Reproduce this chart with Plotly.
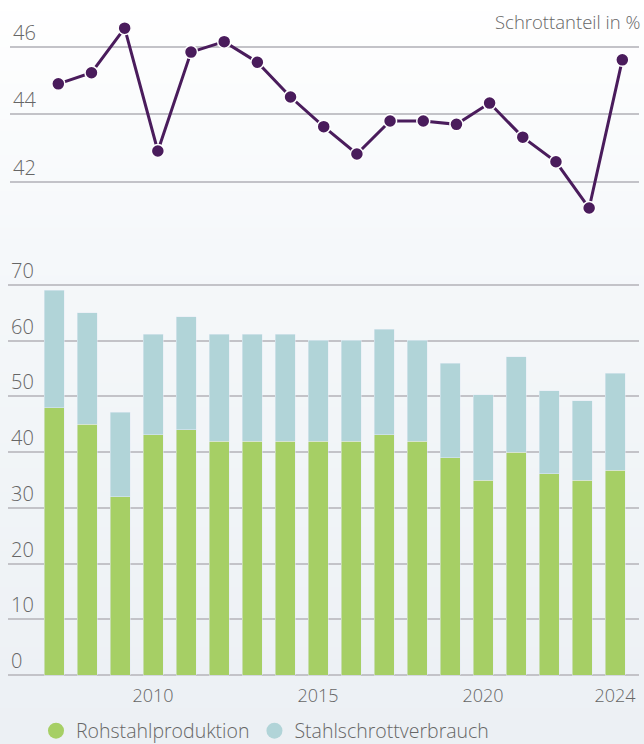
import plotly.graph_objects as go

years = list(range(2007, 2025))
rohstahl = [48, 45, 32, 43.1, 44, 42, 42, 42, 42, 42, 43.1, 42, 39, 35, 40, 36.1, 35, 36.8]
schrott = [21.1, 20, 15.2, 18.1, 20.3, 19.2, 19.2, 19.2, 18.1, 18.1, 19, 18.1, 17, 15.3, 17.1, 14.9, 14.2, 17.4]
anteil = [44.9, 45.23, 46.55, 42.91, 45.84, 46.15, 45.54, 44.51, 43.63, 42.82,
          43.8, 43.8, 43.7, 44.33, 43.32, 42.59, 41.22, 45.61]
x_ticks = [2010, 2015, 2020, 2024]
bar_ticks = [0, 10, 20, 30, 40, 50, 60, 70]
line_ticks = [42, 44, 46]

GREEN = "#a6cf65"
BLUE = "#b1d4d8"
PURPLE = "#4a1c5c"
GRID = "#c3c3c8"
TXT = "#666666"
FONT = "Open Sans"

W, H = 644, 744

fig = go.Figure()

fig.add_trace(go.Bar(x=years, y=rohstahl, marker_color=GREEN, width=0.606,
                     name="Rohstahlproduktion", showlegend=False,
                     xaxis="x", yaxis="y"))
fig.add_trace(go.Bar(x=years, y=schrott, marker_color=BLUE, width=0.606,
                     name="Stahlschrottverbrauch", showlegend=False,
                     xaxis="x", yaxis="y"))
fig.add_trace(go.Scatter(x=years, y=anteil, mode="lines+markers",
                         line=dict(color=PURPLE, width=3),
                         marker=dict(size=13, color=PURPLE, line=dict(color="white", width=1.5)),
                         showlegend=False, xaxis="x2", yaxis="y2", cliponaxis=False))
# legend entries
fig.add_trace(go.Scatter(x=[None], y=[None], mode="markers", name="Rohstahlproduktion",
                         marker=dict(size=20, color=GREEN, symbol="circle"), xaxis="x", yaxis="y"))
fig.add_trace(go.Scatter(x=[None], y=[None], mode="markers", name="Stahlschrottverbrauch",
                         marker=dict(size=20, color=BLUE, symbol="circle"), xaxis="x", yaxis="y"))

# background gradient
def lerp(c1, c2, t):
    return tuple(round(a + (b - a) * t) for a, b in zip(c1, c2))

stops = [(0, (255, 255, 255)), (250, (245, 248, 250)), (744, (236, 240, 244))]
shapes = []
N = 62
for i in range(N):
    y0 = i * H / N
    y1 = (i + 1) * H / N
    ym = (y0 + y1) / 2
    for (a, ca), (b, cb) in zip(stops[:-1], stops[1:]):
        if a <= ym <= b:
            c = lerp(ca, cb, (ym - a) / (b - a))
            break
    shapes.append(dict(type="rect", xref="paper", yref="paper", x0=0, x1=1,
                       y0=1 - y1 / H - 0.001, y1=1 - y0 / H + 0.001,
                       fillcolor="rgb(%d,%d,%d)" % c, line=dict(width=0), layer="below"))

PX = 5.571  # px per unit in bar chart
y_top_px = 250
fig.update_layout(
    width=W, height=H,
    margin=dict(l=0, r=0, t=0, b=0, autoexpand=False),
    paper_bgcolor="white",
    plot_bgcolor="rgba(0,0,0,0)",
    barmode="stack",
    font=dict(family=FONT, color=TXT, weight=300),
    shapes=shapes,
    xaxis=dict(domain=[8 / W, 639 / W], range=[2005.606, 2024.727],
               tickvals=x_ticks, ticktext=[str(v) for v in x_ticks],
               showgrid=False, zeroline=False, showline=False, ticks="",
               tickfont=dict(size=18, color=TXT, family=FONT, weight=300),
               ticklabelstandoff=6, anchor="y", automargin=False),
    yaxis=dict(domain=[1 - 676.7 / H, 1 - y_top_px / H], range=[-0.3, (675 - y_top_px) / PX],
               tickvals=bar_ticks, showgrid=True, gridcolor=GRID, gridwidth=2,
               zeroline=False, showline=False, ticks="",
               ticklabelposition="inside top", ticklabelshift=0,
               tickfont=dict(size=20, color=TXT, family=FONT, weight=300),
               anchor="x", automargin=False),
    xaxis2=dict(domain=[10 / W, 639 / W], range=[2005.544, 2024.503],
                showticklabels=False, showgrid=False, zeroline=False, showline=False,
                ticks="", anchor="y2", automargin=False),
    yaxis2=dict(domain=[1 - 225 / H, 1 - 5 / H], range=[40.717, 47.236],
                tickvals=line_ticks, showgrid=True, gridcolor=GRID, gridwidth=2,
                zeroline=False, showline=False, ticks="",
                ticklabelposition="inside top", ticklabelshift=0,
                tickfont=dict(size=20, color=TXT, family=FONT, weight=300),
                anchor="x2", automargin=False),
    legend=dict(orientation="h", x=36 / W, xanchor="left", y=1 - 731 / H, yanchor="middle",
                bgcolor="rgba(0,0,0,0)", traceorder="normal",
                font=dict(size=19.5, color=TXT, family=FONT, weight=300),
                itemsizing="trace"),
    annotations=[dict(text="Schrottanteil in %", xref="paper", yref="paper",
                      x=642 / W, y=1 - 22 / H, xanchor="right", yanchor="middle",
                      showarrow=False,
                      font=dict(size=18.5, color=TXT, family=FONT, weight=300))],
)

fig.write_html("out.html", config={"displayModeBar": False},
               post_script="document.body.style.margin='0';document.body.style.overflow='hidden';")
